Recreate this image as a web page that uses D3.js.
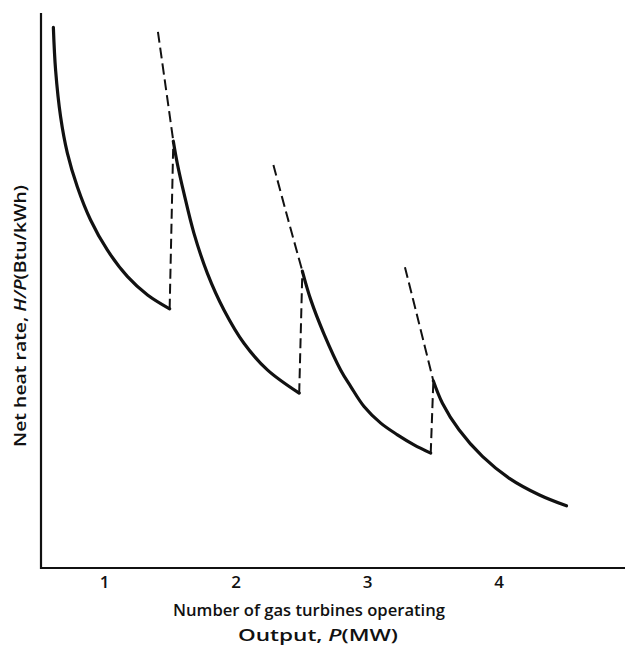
<!DOCTYPE html>
<html>
<head>
<meta charset="utf-8">
<script src="https://cdn.jsdelivr.net/npm/d3@7"></script>
<style>
  html, body { margin: 0; padding: 0; background: #fff; }
  svg { display: block; }
  text { font-family: "Open Sans", "Liberation Sans", sans-serif; fill: #111; font-weight: 600; }
</style>
</head>
<body>
<svg id="chart" width="625" height="648"></svg>
<script>
// Number of gas turbines operating (category labels along the output axis)
const turbineTicks = [1, 2, 3, 4];

// Net heat rate curves, one per number of turbines in service
// x: output (in units of one turbine's rating), y: relative heat rate
const curve1 = [
  [0.614, 97.4], [0.631, 89.7], [0.669, 81.3], [0.720, 74.8], [0.796, 68.7],
  [0.897, 62.7], [1.024, 57.3], [1.178, 52.5], [1.330, 49.2], [1.498, 46.7]
];
const curve2 = [
  [1.526, 76.9], [1.557, 72.8], [1.607, 67.5], [1.683, 60.3], [1.785, 53.1],
  [1.911, 46.5], [2.063, 40.5], [2.241, 35.7], [2.483, 31.5]
];
const curve3 = [
  [2.507, 53.5], [2.570, 48.4], [2.671, 42.2], [2.800, 35.6], [2.875, 32.7],
  [2.976, 29.1], [3.103, 26.1], [3.230, 24.0], [3.356, 22.2], [3.483, 20.7]
];
const curve4 = [
  [3.503, 33.7], [3.572, 29.7], [3.698, 24.9], [3.876, 20.1], [4.078, 16.2],
  [4.306, 13.2], [4.515, 11.2]
];

// Heat rate of each group below its switching point (dashed)
const ext2 = [[1.409, 96.6], [1.468, 86.7], [1.526, 76.9]];
const ext3 = [[2.287, 72.6], [2.395, 63.1], [2.507, 53.5]];
const ext4 = [[3.287, 54.2], [3.392, 44.3], [3.503, 33.7]];

const solidCurves = [curve1, curve2, curve3, curve4];
const extensions = [ext2, ext3, ext4];

const svg = d3.select("#chart");
const plot = { left: 41, right: 625, top: 13, bottom: 568 };

const x = d3.scaleLinear().domain([0.52, 4.96]).range([plot.left, plot.right]);
const y = d3.scaleLinear().domain([0, 100]).range([plot.bottom, plot.top]);

// Axes
const xAxis = d3.axisBottom(x).tickValues(turbineTicks).tickSize(0).tickPadding(8)
  .tickFormat(d3.format("d"));
const gx = svg.append("g").attr("transform", `translate(0,${plot.bottom})`).call(xAxis);
gx.select(".domain").attr("stroke", "#111").attr("stroke-width", 2.2)
  .attr("d", `M${plot.left - 1},0H${plot.right}`);
gx.selectAll(".tick text")
  .attr("font-size", 17).attr("font-weight", 700).attr("fill", "#111")
  .attr("font-family", "'Open Sans', 'Liberation Sans', sans-serif");

const yAxis = d3.axisLeft(y).tickValues([]).tickSize(0);
const gy = svg.append("g").attr("transform", `translate(${plot.left},0)`).call(yAxis);
gy.select(".domain").attr("stroke", "#111").attr("stroke-width", 2.2)
  .attr("d", `M0,${plot.top}V${plot.bottom + 1}`);

const line = d3.line().x(d => x(d[0])).y(d => y(d[1])).curve(d3.curveCatmullRom.alpha(0.5));
const straight = d3.line().x(d => x(d[0])).y(d => y(d[1]));

// Dashed extensions of each curve
svg.append("g").selectAll("path").data(extensions).join("path")
  .attr("d", d => line(d))
  .attr("fill", "none").attr("stroke", "#111").attr("stroke-width", 2)
  .attr("stroke-dasharray", "11,5");

// Dashed jumps when another turbine is brought on line
const jumps = solidCurves.slice(0, -1).map((c, i) => [c[c.length - 1], solidCurves[i + 1][0]]);
svg.append("g").selectAll("path").data(jumps).join("path")
  .attr("d", d => straight(d))
  .attr("fill", "none").attr("stroke", "#111").attr("stroke-width", 2)
  .attr("stroke-dasharray", "10,5");

// Solid operating curves
svg.append("g").selectAll("path").data(solidCurves).join("path")
  .attr("d", d => line(d))
  .attr("fill", "none").attr("stroke", "#111").attr("stroke-width", 3.2)
  .attr("stroke-linecap", "round").attr("stroke-linejoin", "round");

// Axis titles
svg.append("text")
  .attr("x", 173).attr("y", 616)
  .attr("font-size", 16)
  .attr("textLength", 272).attr("lengthAdjust", "spacingAndGlyphs")
  .text("Number of gas turbines operating");

const out = svg.append("text")
  .attr("x", 238).attr("y", 641)
  .attr("font-size", 16)
  .attr("textLength", 160).attr("lengthAdjust", "spacingAndGlyphs");
out.append("tspan").text("Output, ");
out.append("tspan").attr("font-style", "italic").text("P");
out.append("tspan").text("(MW)");

const yl = svg.append("text")
  .attr("transform", "translate(26,447) rotate(-90)")
  .attr("font-size", 16)
  .attr("textLength", 262).attr("lengthAdjust", "spacingAndGlyphs");
yl.append("tspan").text("Net heat rate, ");
yl.append("tspan").attr("font-style", "italic").text("H/P");
yl.append("tspan").text("(Btu/kWh)");
</script>
</body>
</html>
